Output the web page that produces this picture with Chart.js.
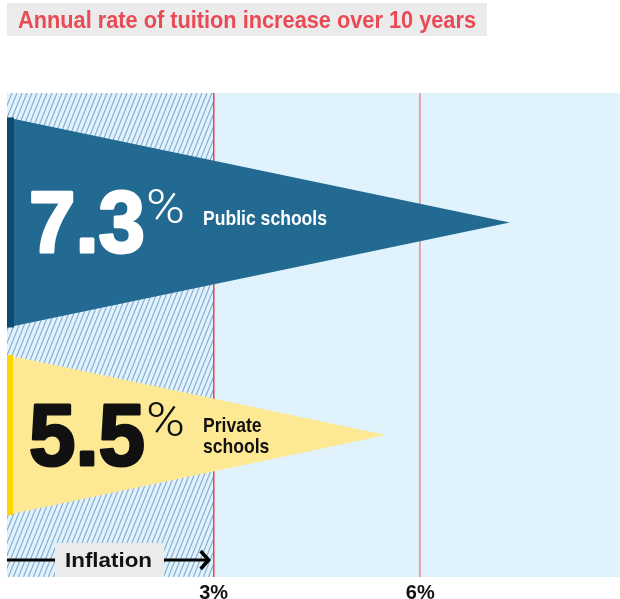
<!DOCTYPE html>
<html>
<head>
<meta charset="utf-8">
<script src="https://cdn.jsdelivr.net/npm/chart.js@4"></script>
<style>
  html, body { margin: 0; padding: 0; background: #fff; }
  #wrap { width: 620px; height: 599px; position: relative; }
</style>
</head>
<body>
<div id="wrap"><canvas id="tuitionChart"></canvas></div>
<script>
// data
const categories = ['Public schools', 'Private schools'];
const labelLines = [['Public schools'], ['Private', 'schools']];
const rates = [7.3, 5.5];
const inflation = 3;
const tickValues = [3, 6];
const titleText = 'Annual rate of tuition increase over 10 years';

const fillColors = ['#226a91', '#fde993'];
const edgeColors = ['#0d4a70', '#fdd600'];
const textColors = ['#ffffff', '#111111'];
const barThick = [210, 160];

const condFont = '"Liberation Sans Narrow", "Liberation Sans", sans-serif';

// draw text squeezed (or stretched) to a given width
function fitText(ctx, text, x, y, width, font) {
    ctx.font = font;
    const w = ctx.measureText(text).width;
    ctx.save();
    ctx.translate(x, y);
    ctx.scale(width / w, 1);
    ctx.fillText(text, 0, 0);
    ctx.restore();
}

const backdrop = {
    id: 'backdrop',
    beforeDraw(chart) {
        const { ctx, chartArea: a, scales: { x } } = chart;
        ctx.save();
        ctx.fillStyle = '#e0f2fb';
        ctx.fillRect(a.left, a.top, a.right - a.left, a.bottom - a.top);
        // hatched zone up to inflation
        const x0 = x.getPixelForValue(0);
        const x1 = x.getPixelForValue(inflation);
        ctx.beginPath();
        ctx.rect(x0, a.top, x1 - x0, a.bottom - a.top);
        ctx.clip();
        ctx.strokeStyle = '#86aad0';
        ctx.lineWidth = 1.1;
        const h = a.bottom - a.top;
        for (let px = x0 - h * 0.4; px < x1 + 5; px += 5) {
            ctx.beginPath();
            ctx.moveTo(px, a.bottom);
            ctx.lineTo(px + h * 0.4, a.top);
            ctx.stroke();
        }
        ctx.restore();

        // title
        ctx.save();
        ctx.fillStyle = '#ebebeb';
        ctx.fillRect(7, 3, 480, 33);
        ctx.fillStyle = '#ea4a56';
        ctx.textBaseline = 'alphabetic';
        fitText(ctx, titleText, 18, 28, 458, 'bold 23px ' + condFont);
        ctx.restore();
    }
};

const wedges = {
    id: 'wedges',
    afterDatasetsDraw(chart) {
        const ctx = chart.ctx;
        ctx.save();
        ctx.font = 'bold 21px ' + condFont;
        const sx = 124 / ctx.measureText(labelLines[0][0]).width;
        chart.data.datasets.forEach((ds, di) => {
            const meta = chart.getDatasetMeta(di);
            meta.data.forEach((el) => {
                const { x, y, base, height } = el.getProps(['x', 'y', 'base', 'height'], true);
                const top = y - height / 2, bot = y + height / 2;
                ctx.fillStyle = fillColors[di];
                ctx.beginPath();
                ctx.moveTo(base, top);
                ctx.lineTo(x, y);
                ctx.lineTo(base, bot);
                ctx.closePath();
                ctx.fill();
                ctx.fillStyle = edgeColors[di];
                ctx.fillRect(base, top, di === 0 ? 7 : 6, height);

                // big value
                const numBase = y + 30;
                ctx.fillStyle = textColors[di];
                ctx.strokeStyle = textColors[di];
                ctx.textBaseline = 'alphabetic';
                ctx.font = 'bold 88px "Liberation Sans", sans-serif';
                const txt = rates[di].toFixed(1);
                const w = ctx.measureText(txt).width;
                ctx.save();
                ctx.translate(base + 22, numBase);
                ctx.scale(116 / w, 1);
                ctx.lineWidth = 3;
                ctx.lineJoin = 'round';
                ctx.fillText(txt, 0, 0);
                ctx.strokeText(txt, 0, 0);
                ctx.restore();
                fitText(ctx, '%', base + 139, numBase - 29, 39, '300 49px Roboto, sans-serif');

                // series label
                ctx.font = 'bold 21px ' + condFont;
                const lines = labelLines[di];
                const y0 = lines.length === 1 ? y + 2.5 : y - 3;
                lines.forEach((ln, li) => {
                    ctx.save();
                    ctx.translate(base + 196, y0 + li * 21);
                    ctx.scale(sx, 1);
                    ctx.fillText(ln, 0, 0);
                    ctx.restore();
                });
            });
        });
        ctx.restore();
    },
    afterDraw(chart) {
        const { ctx, chartArea: a, scales: { x } } = chart;
        const x0 = x.getPixelForValue(0);
        const x1 = x.getPixelForValue(inflation);
        const ay = a.bottom - 17;
        ctx.save();
        ctx.strokeStyle = '#000';
        ctx.lineWidth = 3;
        ctx.beginPath();
        ctx.moveTo(x0, ay);
        ctx.lineTo(x1 - 6, ay);
        ctx.stroke();
        ctx.lineWidth = 3.5;
        ctx.beginPath();
        ctx.moveTo(x1 - 13, ay - 9);
        ctx.lineTo(x1 - 5, ay);
        ctx.lineTo(x1 - 13, ay + 9);
        ctx.stroke();
        ctx.fillStyle = '#ebebeb';
        ctx.fillRect(55, a.bottom - 34, 109, 34);
        ctx.fillStyle = '#111';
        ctx.textBaseline = 'alphabetic';
        fitText(ctx, 'Inflation', 65, a.bottom - 10, 87, 'bold 21px ' + condFont);
        ctx.restore();
    }
};

new Chart(document.getElementById('tuitionChart'), {
    type: 'bar',
    data: {
        labels: categories,
        datasets: categories.map((c, i) => ({
            label: c,
            data: [{ x: rates[i], y: i }],
            backgroundColor: 'rgba(0,0,0,0)',
            borderWidth: 0,
            barThickness: barThick[i],
            grouped: false
        }))
    },
    options: {
        indexAxis: 'y',
        responsive: true,
        maintainAspectRatio: false,
        animation: false,
        layout: { padding: { left: 7, top: 93, right: 0, bottom: 0 } },
        plugins: { legend: { display: false }, tooltip: { enabled: false }, title: { display: false } },
        scales: {
            x: {
                type: 'linear',
                min: 0,
                max: 8.9,
                afterBuildTicks: (axis) => { axis.ticks = tickValues.map(v => ({ value: v })); },
                afterFit: (axis) => { axis.height = 22; },
                border: { display: false },
                grid: {
                    drawTicks: false,
                    color: (c) => c.tick && c.tick.value === inflation ? '#f0404f' : '#eb9aa2',
                    lineWidth: (c) => c.tick && c.tick.value === inflation ? 1.5 : 1.8
                },
                ticks: {
                    padding: 4,
                    color: '#111',
                    font: { family: '"Liberation Sans", sans-serif', size: 20, weight: 'bold' },
                    callback: (v) => v + '%'
                }
            },
            y: {
                type: 'linear',
                reverse: true,
                offset: false,
                min: -0.609,
                max: 1.668,
                display: false
            }
        }
    },
    plugins: [backdrop, wedges]
});
</script>
</body>
</html>
